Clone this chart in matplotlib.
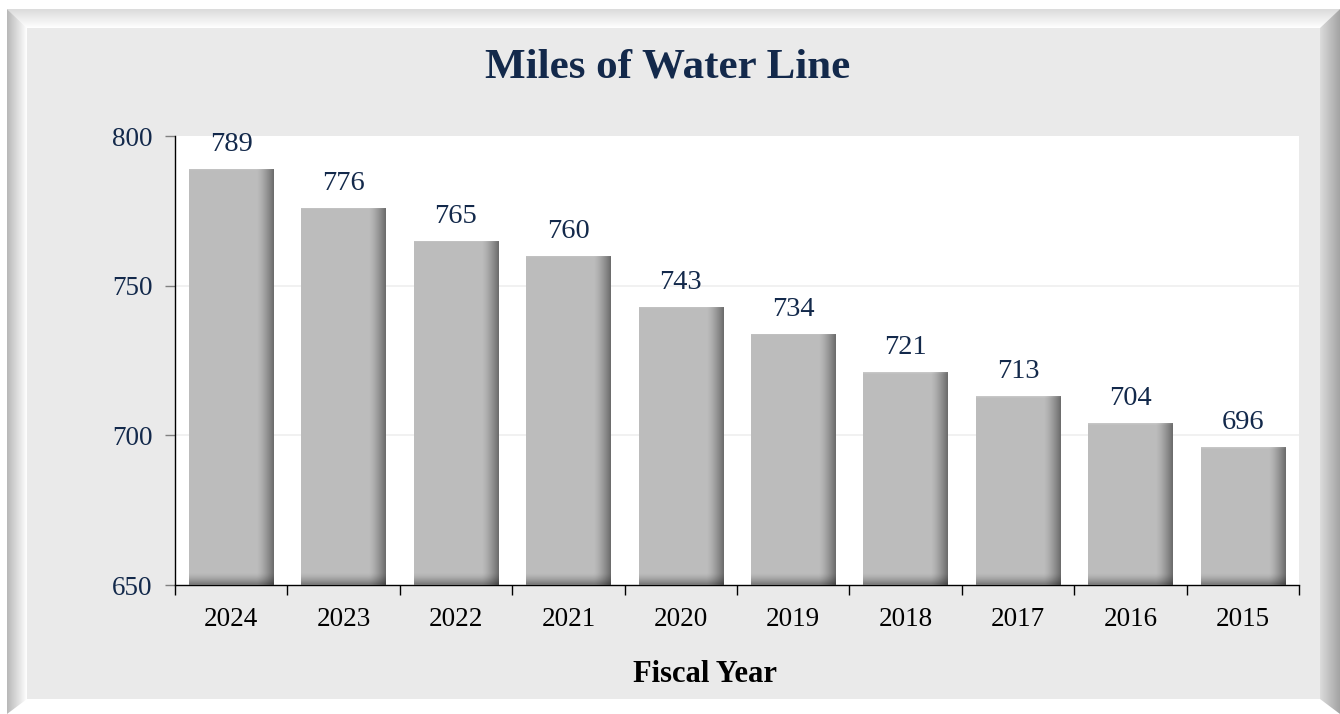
import numpy as np
import matplotlib.pyplot as plt
from matplotlib.patches import Polygon

# Datos
anios = ['2024', '2023', '2022', '2021', '2020', '2019', '2018', '2017', '2016', '2015']
millas = [789, 776, 765, 760, 743, 734, 721, 713, 704, 696]
y_ticks = [650, 700, 750, 800]

AZUL = '#13294B'
W, H = 1340, 714

plt.rcParams['font.family'] = ['Liberation Serif', 'DejaVu Serif']

fig = plt.figure(figsize=(W / 100, H / 100), dpi=100, facecolor='white')

# Marco biselado del fondo, en coordenadas de pixel
fondo = fig.add_axes([0, 0, 1, 1], zorder=0)
fondo.set_xlim(0, W)
fondo.set_ylim(H, 0)
fondo.axis('off')


def bisel(puntos, c0, c1, horizontal=True):
    """Rellena un poligono con un degradado lineal de c0 a c1."""
    pts = np.array(puntos, dtype=float)
    x0, x1 = pts[:, 0].min(), pts[:, 0].max()
    y0, y1 = pts[:, 1].min(), pts[:, 1].max()
    t = np.linspace(0, 1, 64)
    g = np.tile(t, (2, 1)) if horizontal else np.tile(t[:, None], (1, 2))
    c0, c1 = np.array(c0), np.array(c1)
    img = c0 + (c1 - c0) * g[..., None]
    poly = Polygon(pts, closed=True, facecolor='none', edgecolor='none')
    fondo.add_patch(poly)
    im = fondo.imshow(img, extent=(x0, x1, y1, y0), aspect='auto',
                      interpolation='bilinear')
    im.set_clip_path(poly)


blanco = (1.0, 1.0, 1.0)
# bisel superior
bisel([(7, 9), (1340, 9), (1320, 28), (27, 28)], (0.86, 0.86, 0.86), blanco, horizontal=False)
# bisel izquierdo
bisel([(7, 9), (27, 28), (27, 699), (7, 714)], (0.72, 0.72, 0.72), blanco)
# bisel derecho
bisel([(1320, 28), (1340, 9), (1340, 714), (1320, 699)], (0.86, 0.86, 0.86), (0.64, 0.64, 0.64))
# panel interior
fondo.add_patch(Polygon([(27, 28), (1320, 28), (1320, 699), (27, 699)],
                        closed=True, facecolor='#EAEAEA', edgecolor='none'))

# Grafico principal
ax = fig.add_axes([175 / W, 1 - 585 / H, (1299 - 175) / W, (585 - 136) / H], zorder=1)
ax.set_facecolor('white')

x = np.arange(len(anios))
ancho = 0.75

barras = ax.bar(x, [v - 650 for v in millas], bottom=650, width=ancho,
                color='#BCBCBC', edgecolor='none', zorder=2)

# Sombreado de cada barra: borde derecho y base mas oscuros
for b, v in zip(barras, millas):
    x0 = b.get_x()
    x1 = x0 + b.get_width()
    filas = 400
    cols = 60
    u = np.linspace(0, 1, cols)
    yy = np.linspace(v, 650, filas)
    der = np.clip((u - 0.80) / 0.20, 0, 1) ** 1.4
    base = np.clip((654.0 - yy) / 4.0, 0, 1) ** 1.5
    arriba = np.clip((yy - (v - 0.6)) / 0.6, 0, 1)
    sombra = 0.74 * (1 - 0.42 * der[None, :]) * (1 - 0.38 * base[:, None])
    sombra = sombra + 0.05 * arriba[:, None]
    img = np.dstack([sombra, sombra, sombra])
    im = ax.imshow(img, extent=(x0, x1, 650, v), aspect='auto',
                   interpolation='bilinear', zorder=3)
    im.set_clip_path(b)
    ax.text(b.get_x() + b.get_width() / 2, v + 4.0, str(v), ha='center',
            va='bottom', fontsize=20.5, color=AZUL, zorder=4)

ax.set_aspect('auto')
ax.set_xlim(-0.5, len(anios) - 0.5)
ax.set_ylim(650, 800)

# Cuadricula tenue
for yv in (700, 750):
    ax.axhline(yv, color='#EFEFEF', linewidth=1.2, zorder=1)

ax.set_yticks(y_ticks)
ax.set_yticklabels([str(t) for t in y_ticks], fontsize=19.5, color=AZUL)
ax.tick_params(axis='y', length=7, width=1, color='#808080', pad=9)

# Etiquetas del eje x centradas, marcas entre categorias
ax.set_xticks(np.arange(-0.5, len(anios), 1.0))
ax.set_xticklabels([])
ax.set_xticks(x, minor=True)
ax.set_xticklabels(anios, minor=True, fontsize=19.5, color='black')
ax.tick_params(axis='x', which='major', length=7, width=1, color='black', direction='out')
ax.tick_params(axis='x', which='minor', length=0, pad=16)

for lado in ('top', 'right'):
    ax.spines[lado].set_visible(False)
ax.spines['left'].set_color('black')
ax.spines['bottom'].set_color('black')
ax.spines['left'].set_linewidth(1)
ax.spines['bottom'].set_linewidth(1)

fig.text(668 / W, 1 - 67 / H, 'Miles of Water Line', ha='center', va='center',
         fontsize=31, fontweight='bold', color=AZUL)
fig.text(705 / W, 1 - 675 / H, 'Fiscal Year', ha='center', va='center',
         fontsize=22, fontweight='bold', color='black')

fig.savefig('out.png', dpi=100, facecolor='white')
